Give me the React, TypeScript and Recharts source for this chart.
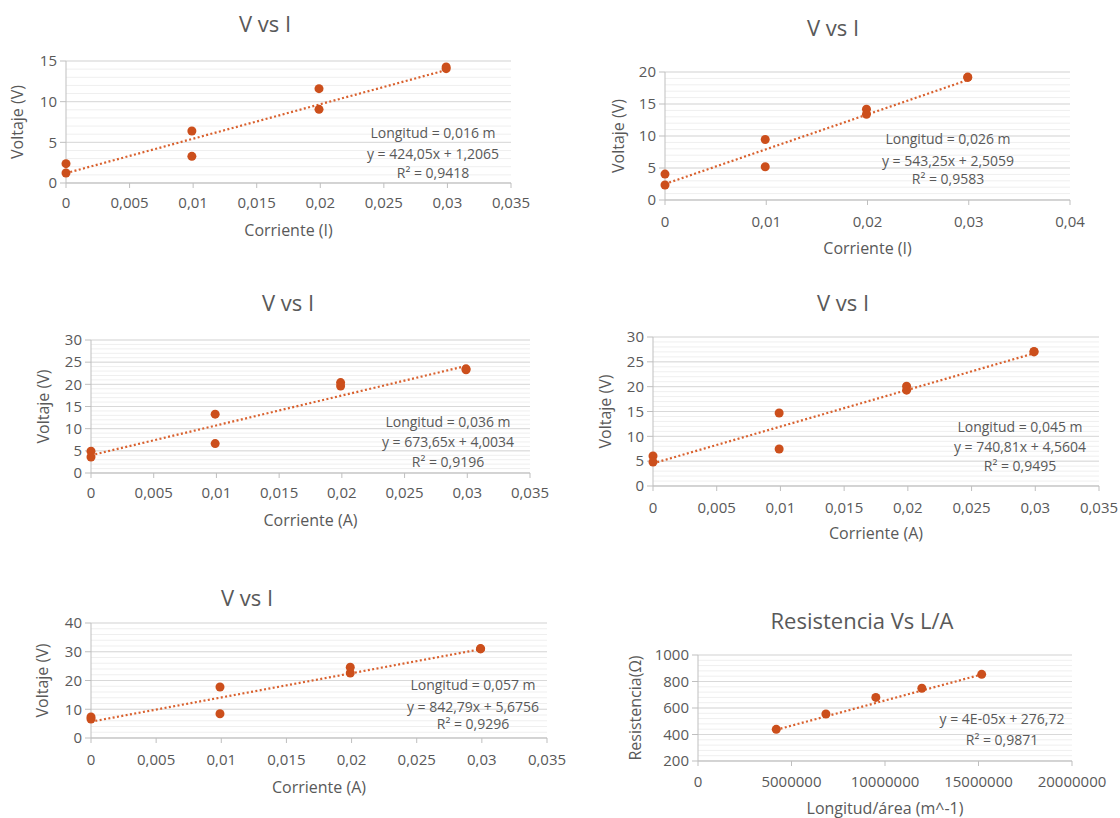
import React from "react";
import {
  ScatterChart,
  Scatter,
  XAxis,
  YAxis,
  CartesianGrid,
  ReferenceLine,
} from "recharts";

const FONT = '"Open Sans", "Noto Sans", sans-serif';
const TEXT = "#595959";
const DOT = "#cc4f1c";
const TREND = "#d9612e";

// corriente (A) shared by the five V vs I charts
const corriente = [0, 0, 0.0099, 0.0099, 0.0199, 0.0199, 0.0299, 0.0299];

// voltaje (V) per wire length
const voltaje016 = [2.38, 1.23, 6.4, 3.28, 11.6, 9.06, 14.26, 14.06];
const voltaje026 = [4.05, 2.34, 9.46, 5.19, 14.18, 13.4, 19.2, 19.15];
const voltaje036 = [4.9, 3.62, 13.27, 6.64, 20.4, 19.6, 23.5, 23.3];
const voltaje045 = [6.04, 4.83, 14.7, 7.45, 20.1, 19.3, 27.1, 27.0];
const voltaje057 = [7.3, 6.6, 17.74, 8.45, 24.6, 22.6, 31.1, 31.0];

// resistencia vs L/A
const longitudArea = [4185000, 6840000, 9510000, 11970000, 15170000];
const resistencia = [439, 555, 680, 749, 854];

// trendlines (slope, intercept) as shown in the labels
const pendientes = [424.05, 543.25, 673.65, 740.81, 842.79, 3.8e-5];
const interceptos = [1.2065, 2.5059, 4.0034, 4.5604, 5.6756, 276.72];
const ecuaciones = [
  "y = 424,05x + 1,2065",
  "y = 543,25x + 2,5059",
  "y = 673,65x + 4,0034",
  "y = 740,81x + 4,5604",
  "y = 842,79x + 5,6756",
  "y = 4E-05x + 276,72",
];
const r2 = ["0,9418", "0,9583", "0,9196", "0,9495", "0,9296", "0,9871"];
const longitudes = ["0,016", "0,026", "0,036", "0,045", "0,057"];

// axis ticks
const ticks035 = [0, 0.005, 0.01, 0.015, 0.02, 0.025, 0.03, 0.035];
const ticks04 = [0, 0.01, 0.02, 0.03, 0.04];
const ticksLA = [0, 5000000, 10000000, 15000000, 20000000];
const yTicks15 = [0, 5, 10, 15];
const yTicks20 = [0, 5, 10, 15, 20];
const yTicks30 = [0, 5, 10, 15, 20, 25, 30];
const yTicks40 = [0, 10, 20, 30, 40];
const yTicksR = [200, 400, 600, 800, 1000];
const minor1 = (max: number) => Array.from({ length: max + 1 }, (_, i) => i);
const minorR = Array.from({ length: 21 }, (_, i) => 200 + i * 40);

const comma = (v: number) => String(v).replace(".", ",");

type PanelProps = {
  left: number;
  top: number;
  plotW: number;
  plotH: number;
  xs: number[];
  ys: number[];
  xTicks: number[];
  yTicks: number[];
  yMinor: number[];
  slope: number;
  intercept: number;
  title: string;
  titleX: number;
  titleY: number;
  xTitle: string;
  xTitleY: number;
  yTitle: string;
  yTitleX: number;
  tickY: number;
  notes: string[];
  noteX: number;
  noteY: number[];
  xFmt: (v: number) => string;
};

const YW = 90;
const XH = 70;
const MT = 10;
const MR = 40;

function Panel(p: PanelProps) {
  const data = p.xs.map((x, i) => ({ x, y: p.ys[i] }));
  const x0 = Math.min(...p.xs);
  const x1 = Math.max(...p.xs);
  const seg = [
    { x: x0, y: p.slope * x0 + p.intercept },
    { x: x1, y: p.slope * x1 + p.intercept },
  ];
  const svgLeft = p.left - YW;
  const svgTop = p.top - MT;
  const bottom = p.top + p.plotH;
  const tickMargin = p.tickY - bottom - 5 - 5.4;
  const xTitleOffset = XH - (p.xTitleY + 5.7 - bottom);
  const yTitleOffset = p.yTitleX - svgLeft;

  return (
    <>
      <div
        style={{
          position: "absolute",
          left: p.titleX,
          top: p.titleY,
          transform: "translate(-50%, -50%)",
          fontSize: 22,
          lineHeight: 1,
          color: TEXT,
          whiteSpace: "nowrap",
        }}
      >
        {p.title}
      </div>
      <div style={{ position: "absolute", left: svgLeft, top: svgTop }}>
        <ScatterChart
          width={YW + p.plotW + MR}
          height={MT + p.plotH + XH}
          margin={{ top: MT, right: MR, left: 0, bottom: 0 }}
        >
          <CartesianGrid vertical={false} horizontalValues={p.yMinor} stroke="#efefef" />
          <CartesianGrid vertical={false} horizontalValues={p.yTicks} stroke="#d9d9d9" />
          <XAxis
            type="number"
            dataKey="x"
            domain={[p.xTicks[0], p.xTicks[p.xTicks.length - 1]]}
            ticks={p.xTicks}
            interval={0}
            tickFormatter={p.xFmt}
            height={XH}
            tickSize={5}
            tickMargin={tickMargin}
            stroke="#bfbfbf"
            tick={{ fill: TEXT, fontSize: 15, fontFamily: FONT }}
            label={{
              value: p.xTitle,
              position: "insideBottom",
              offset: xTitleOffset,
              fill: TEXT,
              fontSize: 16,
              fontFamily: FONT,
            }}
          />
          <YAxis
            type="number"
            dataKey="y"
            domain={[p.yTicks[0], p.yTicks[p.yTicks.length - 1]]}
            ticks={p.yTicks}
            interval={0}
            width={YW}
            tickSize={6}
            tickMargin={3}
            stroke="#bfbfbf"
            tick={{ fill: TEXT, fontSize: 15, fontFamily: FONT }}
            label={{
              value: p.yTitle,
              angle: -90,
              position: "insideLeft",
              offset: yTitleOffset,
              fill: TEXT,
              fontSize: 16,
              fontFamily: FONT,
              style: { textAnchor: "middle" },
            }}
          />
          <ReferenceLine
            segment={seg}
            stroke={TREND}
            strokeWidth={2.2}
            strokeDasharray="2 2.4"
            ifOverflow="visible"
          />
          <Scatter
            data={data}
            fill={DOT}
            isAnimationActive={false}
            shape={(s: any) => <circle cx={s.cx} cy={s.cy} r={4.5} fill={DOT} />}
          />
        </ScatterChart>
      </div>
      {p.notes.map((n, i) => (
        <div
          key={i}
          style={{
            position: "absolute",
            left: p.noteX,
            top: p.noteY[i],
            transform: "translate(-50%, -50%)",
            fontSize: 14,
            lineHeight: 1,
            color: TEXT,
            whiteSpace: "nowrap",
          }}
        >
          {n}
        </div>
      ))}
    </>
  );
}

const notesFor = (i: number) => [
  `Longitud = ${longitudes[i]} m`,
  ecuaciones[i],
  `R² = ${r2[i]}`,
];

export default function App() {
  return (
    <div
      style={{
        position: "absolute",
        left: 0,
        top: 0,
        width: 1120,
        height: 818,
        overflow: "hidden",
        background: "#ffffff",
        fontFamily: FONT,
      }}
    >
      <Panel
        left={66}
        top={61}
        plotW={445}
        plotH={122}
        xs={corriente}
        ys={voltaje016}
        xTicks={ticks035}
        yTicks={yTicks15}
        yMinor={minor1(15)}
        slope={pendientes[0]}
        intercept={interceptos[0]}
        title="V vs I"
        titleX={265}
        titleY={23}
        xTitle="Corriente (I)"
        xTitleY={230}
        yTitle="Voltaje (V)"
        yTitleX={17}
        tickY={203}
        notes={notesFor(0)}
        noteX={433}
        noteY={[133, 154, 173]}
        xFmt={comma}
      />
      <Panel
        left={665}
        top={72}
        plotW={405}
        plotH={128}
        xs={corriente}
        ys={voltaje026}
        xTicks={ticks04}
        yTicks={yTicks20}
        yMinor={minor1(20)}
        slope={pendientes[1]}
        intercept={interceptos[1]}
        title="V vs I"
        titleX={833}
        titleY={27}
        xTitle="Corriente (I)"
        xTitleY={248}
        yTitle="Voltaje (V)"
        yTitleX={618}
        tickY={222}
        notes={notesFor(1)}
        noteX={948}
        noteY={[139, 161, 179]}
        xFmt={comma}
      />
      <Panel
        left={91}
        top={340}
        plotW={439}
        plotH={133}
        xs={corriente}
        ys={voltaje036}
        xTicks={ticks035}
        yTicks={yTicks30}
        yMinor={minor1(30)}
        slope={pendientes[2]}
        intercept={interceptos[2]}
        title="V vs I"
        titleX={288}
        titleY={302}
        xTitle="Corriente (A)"
        xTitleY={520}
        yTitle="Voltaje (V)"
        yTitleX={43}
        tickY={493}
        notes={notesFor(2)}
        noteX={448}
        noteY={[422, 442, 462]}
        xFmt={comma}
      />
      <Panel
        left={653}
        top={337}
        plotW={446}
        plotH={149}
        xs={corriente}
        ys={voltaje045}
        xTicks={ticks035}
        yTicks={yTicks30}
        yMinor={minor1(30)}
        slope={pendientes[3]}
        intercept={interceptos[3]}
        title="V vs I"
        titleX={843}
        titleY={302}
        xTitle="Corriente (A)"
        xTitleY={533}
        yTitle="Voltaje (V)"
        yTitleX={605}
        tickY={508}
        notes={notesFor(3)}
        noteX={1020}
        noteY={[427, 447, 466]}
        xFmt={comma}
      />
      <Panel
        left={91}
        top={623}
        plotW={456}
        plotH={115}
        xs={corriente}
        ys={voltaje057}
        xTicks={ticks035}
        yTicks={yTicks40}
        yMinor={minor1(20).map((v) => v * 2)}
        slope={pendientes[4]}
        intercept={interceptos[4]}
        title="V vs I"
        titleX={247}
        titleY={597}
        xTitle="Corriente (A)"
        xTitleY={787}
        yTitle="Voltaje (V)"
        yTitleX={42}
        tickY={760}
        notes={notesFor(4)}
        noteX={473}
        noteY={[685, 707, 724]}
        xFmt={comma}
      />
      <Panel
        left={698}
        top={655}
        plotW={374}
        plotH={106}
        xs={longitudArea}
        ys={resistencia}
        xTicks={ticksLA}
        yTicks={yTicksR}
        yMinor={minorR}
        slope={pendientes[5]}
        intercept={interceptos[5]}
        title="Resistencia Vs L/A"
        titleX={862}
        titleY={620}
        xTitle="Longitud/área (m^-1)"
        xTitleY={808}
        yTitle="Resistencia(Ω)"
        yTitleX={635}
        tickY={782}
        notes={[ecuaciones[5], `R² = ${r2[5]}`]}
        noteX={1002}
        noteY={[719, 740]}
        xFmt={(v: number) => String(v)}
      />
    </div>
  );
}
